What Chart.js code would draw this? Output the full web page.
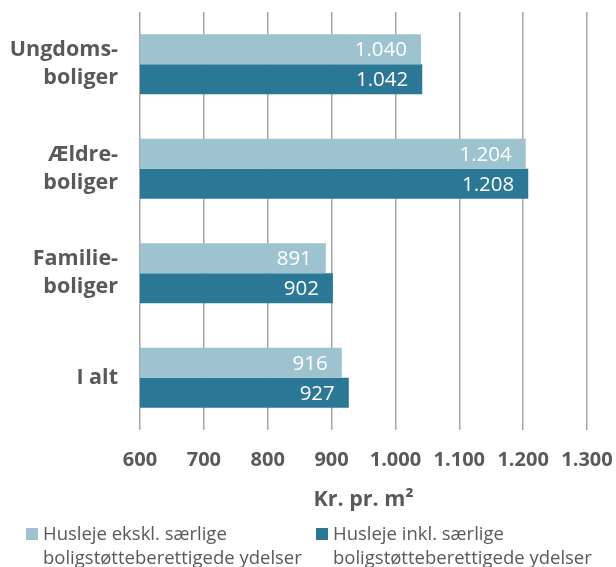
<!DOCTYPE html>
<html>
<head>
<meta charset="utf-8">
<script src="https://cdn.jsdelivr.net/npm/chart.js@4.4.1/dist/chart.umd.min.js"></script>
<style>
  html, body { margin: 0; padding: 0; background: #ffffff; }
  #wrap { width: 616px; height: 567px; position: relative; }
</style>
</head>
<body>
<div id="wrap"><canvas id="c" width="616" height="567"></canvas></div>
<script>
// ---- data ----
const categories = [["Ungdoms-", "boliger"], ["Ældre-", "boliger"], ["Familie-", "boliger"], ["I alt"]];
const seriesNames = [
  ["Husleje ekskl. særlige", "boligstøtteberettigede ydelser"],
  ["Husleje inkl. særlige", "boligstøtteberettigede ydelser"]
];
const exclValues = [1040, 1204, 891, 916];
const inclValues = [1042, 1208, 902, 927];
const xMin = 600, xMax = 1300, xStep = 100;
const axisTitle = "Kr. pr. m²";

const lightColor = "#9dc3d0";
const darkColor = "#2a7896";
const textColor = "#595959";

function fmt(n) {
  n = Math.round(n);
  if (n >= 1000) return Math.floor(n / 1000) + "." + String(n % 1000).padStart(3, "0");
  return String(n);
}

const valueLabels = {
  id: "valueLabels",
  afterDatasetsDraw(chart) {
    const ctx = chart.ctx;
    ctx.save();
    ctx.fillStyle = "#ffffff";
    ctx.font = "20.5px 'Open Sans'";
    ctx.textAlign = "right";
    ctx.textBaseline = "middle";
    chart.data.datasets.forEach((ds, di) => {
      const meta = chart.getDatasetMeta(di);
      meta.data.forEach((bar, i) => {
        ctx.fillText(fmt(ds.data[i]), bar.x - 14, bar.y + 1);
      });
    });
    ctx.restore();
  }
};

const customLegend = {
  id: "customLegend",
  afterDraw(chart) {
    const ctx = chart.ctx;
    const starts = [26, 316];
    ctx.save();
    ctx.font = "18.5px 'Open Sans'";
    ctx.textBaseline = "alphabetic";
    ctx.textAlign = "left";
    chart.data.datasets.forEach((ds, di) => {
      const x0 = starts[di];
      ctx.fillStyle = ds.backgroundColor;
      ctx.fillRect(x0, 528, 12, 12);
      ctx.fillStyle = textColor;
      seriesNames[di].forEach((line, li) => {
        ctx.fillText(line, x0 + 17, 540 + li * 24);
      });
    });
    ctx.restore();
  }
};

new Chart(document.getElementById("c"), {
  type: "bar",
  data: {
    labels: categories,
    datasets: [
      { label: seriesNames[0].join(" "), data: exclValues, backgroundColor: lightColor, borderWidth: 0 },
      { label: seriesNames[1].join(" "), data: inclValues, backgroundColor: darkColor, borderWidth: 0 }
    ]
  },
  options: {
    indexAxis: "y",
    responsive: false,
    animation: false,
    devicePixelRatio: 1,
    layout: { padding: { top: 12, left: 0, right: 29, bottom: 54 } },
    plugins: { legend: { display: false }, tooltip: { enabled: false } },
    datasets: { bar: { categoryPercentage: 0.574, barPercentage: 1.0 } },
    scales: {
      x: {
        min: xMin, max: xMax,
        grid: { color: "#a6a6a6", lineWidth: 1.5, drawTicks: false },
        border: { display: false },
        ticks: {
          stepSize: xStep,
          padding: 18,
          color: textColor,
          font: { family: "'Open Sans'", size: 20, weight: "bold" },
          callback: (v) => fmt(v)
        },
        title: {
          display: true,
          text: axisTitle,
          color: textColor,
          font: { family: "'Open Sans'", size: 21.5, weight: "bold" },
          padding: { top: 0, bottom: 0 }
        },
        afterFit(scale) { scale.height = 83; scale.paddingLeft = 0; scale.paddingRight = 0; }
      },
      y: {
        grid: { display: false, drawTicks: false },
        border: { display: false },
        ticks: {
          padding: 22,
          color: textColor,
          font: { family: "'Open Sans'", size: 21.5, weight: "bold", lineHeight: 1.3 }
        },
        afterFit(scale) { scale.width = 140; scale.paddingTop = 0; scale.paddingBottom = 0; }
      }
    }
  },
  plugins: [valueLabels, customLegend]
});
</script>
</body>
</html>
